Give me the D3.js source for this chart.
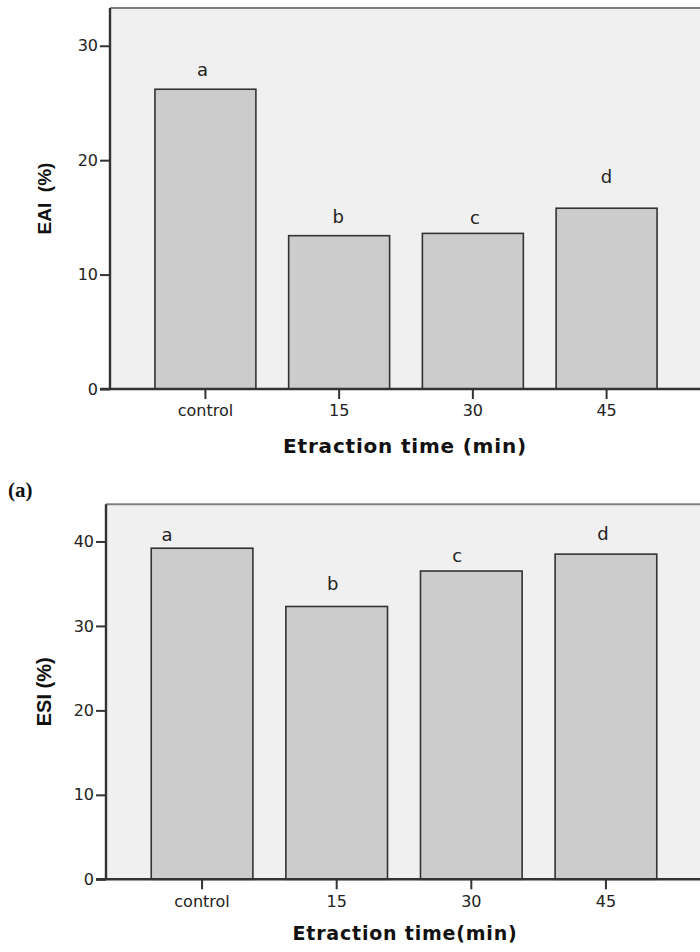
<!DOCTYPE html>
<html>
<head>
<meta charset="utf-8">
<script src="https://cdn.jsdelivr.net/npm/d3@7.9.0/dist/d3.min.js"></script>
<style>
  body { margin: 0; background: #fff; }
  svg { display: block; }
  .tick text { font-family: 'DejaVu Sans', sans-serif; font-size: 16px; fill: #222; }
</style>
</head>
<body>
<svg id="chart" width="700" height="952"></svg>
<script>
// data
const categories = ['control', '15', '30', '45'];
const eaiValues = [26.2, 13.4, 13.6, 15.8];
const eaiLetters = ['a', 'b', 'c', 'd'];
const eaiLetterAt = [27.4, 14.5, 14.4, 18.0]; // where the letter sits, in y units
const eaiTicks = [0, 10, 20, 30];

const esiValues = [39.2, 32.3, 36.5, 38.5];
const esiLetters = ['a', 'b', 'c', 'd'];
const esiLetterAt = [40.1, 34.3, 37.6, 40.2];
const esiTicks = [0, 10, 20, 30, 40];

const svg = d3.select('#chart');

function drawPanel(opt) {
  const { left, right, top, bottom, yMax, values, letters, letterAt, letterDx, ticks, yTitle, xTitle, xTitleY, xTitleSize, yTitleSize } = opt;

  const x = d3.scaleBand()
    .domain(categories)
    .range([left, right])
    .paddingInner(0.245)
    .paddingOuter(0.336);

  const y = d3.scaleLinear().domain([0, yMax]).range([bottom, top]);

  const g = svg.append('g');

  // plot area
  g.append('rect')
    .attr('x', left).attr('y', top)
    .attr('width', right - left).attr('height', bottom - top)
    .attr('fill', '#f0f0f0');

  g.append('line')
    .attr('x1', left).attr('x2', right)
    .attr('y1', top).attr('y2', top)
    .attr('stroke', '#808080').attr('stroke-width', 2);

  // bars
  g.selectAll('rect.bar')
    .data(values)
    .join('rect')
    .attr('class', 'bar')
    .attr('x', (d, i) => x(categories[i]))
    .attr('y', (d) => y(d))
    .attr('width', x.bandwidth())
    .attr('height', (d) => y(0) - y(d))
    .attr('fill', '#cccccc')
    .attr('stroke', '#333')
    .attr('stroke-width', 1.6);

  // letters
  g.selectAll('text.letter')
    .data(letters)
    .join('text')
    .attr('class', 'letter')
    .attr('x', (d, i) => x(categories[i]) + x.bandwidth() / 2 + letterDx[i])
    .attr('y', (d, i) => y(letterAt[i]))
    .attr('text-anchor', 'middle')
    .style('font-family', "'DejaVu Sans', sans-serif")
    .style('font-size', '18px')
    .style('fill', '#222')
    .text((d) => d);

  // axes
  const yAxis = g.append('g')
    .attr('transform', `translate(${left},0)`)
    .call(d3.axisLeft(y).tickValues(ticks).tickSize(10).tickPadding(2).tickFormat(d3.format('d')));
  yAxis.select('.domain').remove();
  yAxis.selectAll('.tick line').attr('stroke', '#333').attr('stroke-width', 2);

  const xAxis = g.append('g')
    .attr('transform', `translate(0,${bottom})`)
    .call(d3.axisBottom(x).tickSize(10).tickPadding(6));
  xAxis.select('.domain').remove();
  xAxis.selectAll('.tick line').attr('stroke', '#333').attr('stroke-width', 2);

  g.append('line')
    .attr('x1', left).attr('x2', left)
    .attr('y1', top).attr('y2', bottom)
    .attr('stroke', '#333').attr('stroke-width', 2.4);
  g.append('line')
    .attr('x1', left - 10).attr('x2', right)
    .attr('y1', bottom).attr('y2', bottom)
    .attr('stroke', '#333').attr('stroke-width', 2.4);

  // titles
  g.append('text')
    .attr('transform', `translate(${opt.yTitleX},${(top + bottom) / 2}) rotate(-90)`)
    .attr('text-anchor', 'middle')
    .attr('dy', '0.35em')
    .style('font-family', "'Liberation Sans', Arial, sans-serif")
    .style('font-weight', 'bold')
    .style('font-size', yTitleSize + 'px')
    .style('white-space', 'pre')
    .style('fill', '#111')
    .text(yTitle);

  g.append('text')
    .attr('x', 405)
    .attr('y', xTitleY)
    .attr('text-anchor', 'middle')
    .attr('dy', '0.35em')
    .style('font-family', "'DejaVu Sans', Verdana, sans-serif")
    .style('font-weight', 'bold')
    .style('font-size', xTitleSize + 'px')
    .style('letter-spacing', '0.8px')
    .style('white-space', 'pre')
    .style('fill', '#111')
    .text(xTitle);
}

drawPanel({
  left: 110, right: 702, top: 8, bottom: 389, yMax: 33.3,
  values: eaiValues, letters: eaiLetters, letterAt: eaiLetterAt,
  letterDx: [-3, -1, 2, 0],
  ticks: eaiTicks,
  yTitle: 'EAI  (%)', yTitleX: 44, yTitleSize: 19,
  xTitle: 'Etraction time (min)', xTitleY: 446, xTitleSize: 20
});

drawPanel({
  left: 106, right: 702, top: 504.3, bottom: 879.3, yMax: 44.4,
  values: esiValues, letters: esiLetters, letterAt: esiLetterAt,
  letterDx: [-35, -4, -14, -3],
  ticks: esiTicks,
  yTitle: 'ESI (%)', yTitleX: 44, yTitleSize: 20,
  xTitle: 'Etraction time(min)', xTitleY: 933, xTitleSize: 19
});

svg.append('text')
  .attr('x', 8)
  .attr('y', 497)
  .attr('font-family', "'Liberation Serif', 'Times New Roman', serif")
  .attr('font-weight', 'bold')
  .attr('font-size', 21)
  .attr('fill', '#111')
  .text('(a)');
</script>
</body>
</html>
